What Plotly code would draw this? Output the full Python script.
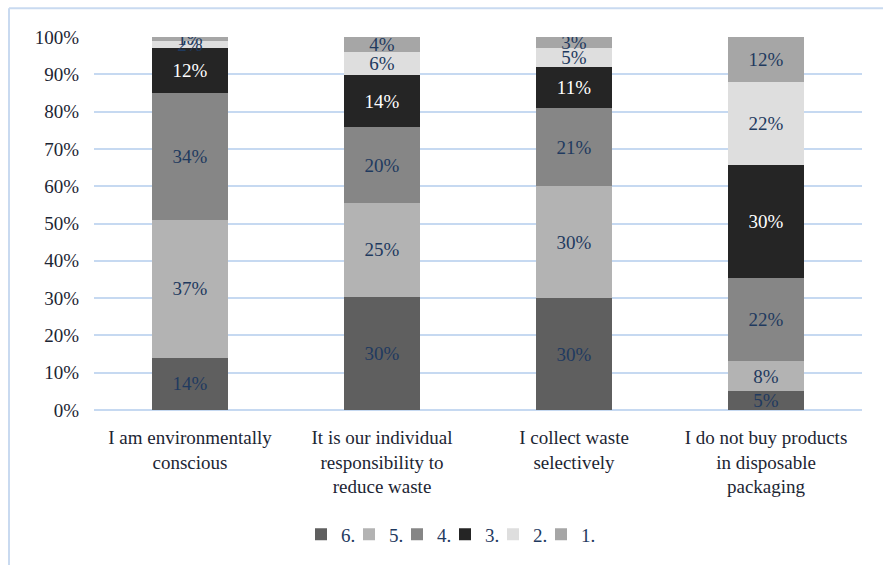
import plotly.graph_objects as go

# Survey statements (x categories)
categories = [
    "I am environmentally<br>conscious",
    "It is our individual<br>responsibility to<br>reduce waste",
    "I collect waste<br>selectively",
    "I do not buy products<br>in disposable<br>packaging",
]

# Share of answers per rating level (percent), stacked bottom to top
rating_6 = [14, 30, 30, 5]
rating_5 = [37, 25, 30, 8]
rating_4 = [34, 20, 21, 22]
rating_3 = [12, 14, 11, 30]
rating_2 = [2, 6, 5, 22]
rating_1 = [1, 4, 3, 12]

series_names = ["6.", "5.", "4.", "3.", "2.", "1."]
series_values = [rating_6, rating_5, rating_4, rating_3, rating_2, rating_1]
series_colors = ["#5f5f5f", "#b3b3b3", "#868686", "#252525", "#dedede", "#a6a6a6"]
label_colors = ["#1f3a5f", "#1f3a5f", "#1f3a5f", "#ffffff", "#1f3a5f", "#1f3a5f"]

y_ticks = [0, 10, 20, 30, 40, 50, 60, 70, 80, 90, 100]
y_tick_labels = [f"{t}%" for t in y_ticks]

FONT = "Liberation Serif"
TEXT = "#1c2533"
GRID = "#c6d9f1"

# plot area in pixels
PL, PR, PT, PB = 94, 862, 37, 412


def px_x(p):
    return (p - PL) / (PR - PL)


def px_y(p):
    return (PB - p) / (PB - PT)


# one small legend box per series, laid out in a tight row
LEG_LEFT = 301
LEG_STEP = 48
legend_ids = ["legend"] + [f"legend{i}" for i in range(2, len(series_names) + 1)]

fig = go.Figure()
for name, vals, color, lc, lg in zip(series_names, series_values, series_colors,
                                     label_colors, legend_ids):
    fig.add_trace(go.Bar(
        name=name,
        x=categories,
        y=vals,
        legend=lg,
        marker=dict(color=color, line=dict(width=0)),
        text=[f"{v}%" for v in vals],
        texttemplate="%{text}",
        textposition="inside",
        insidetextanchor="middle",
        constraintext="none",
        textangle=0,
        textfont=dict(family=FONT, size=19, color=lc),
        hoverinfo="skip",
    ))

# Outer frame lines (left and top edges of the chart box)
fig.add_shape(type="line", xref="paper", yref="paper",
              x0=px_x(9), x1=px_x(9), y0=px_y(8), y1=px_y(600),
              line=dict(color="#c9daf0", width=2))
fig.add_shape(type="line", xref="paper", yref="paper",
              x0=px_x(9), x1=px_x(900), y0=px_y(8), y1=px_y(8),
              line=dict(color="#c9daf0", width=2))

legends = {}
for i, lg in enumerate(legend_ids):
    legends[lg] = dict(
        orientation="h",
        x=px_x(LEG_LEFT + i * LEG_STEP), xanchor="left",
        y=px_y(537), yanchor="middle",
        font=dict(family=FONT, size=19, color="#1f3a5f"),
        itemwidth=30,
        bgcolor="rgba(0,0,0,0)",
    )

fig.update_layout(
    width=883, height=565,
    margin=dict(l=PL, r=883 - PR, t=PT, b=565 - PB),
    barmode="stack",
    barnorm="percent",
    bargap=0.6,
    plot_bgcolor="white",
    paper_bgcolor="white",
    font=dict(family=FONT, size=19, color=TEXT),
    showlegend=True,
    xaxis=dict(
        tickfont=dict(family=FONT, size=19, color=TEXT),
        showgrid=False,
        showline=False,
        ticks="",
        ticklabelstandoff=14,
    ),
    yaxis=dict(
        range=[0, 100],
        tickvals=y_ticks,
        ticktext=y_tick_labels,
        tickfont=dict(family=FONT, size=19, color=TEXT),
        showgrid=True,
        gridcolor=GRID,
        gridwidth=2,
        zeroline=True,
        zerolinecolor=GRID,
        zerolinewidth=2,
        ticks="",
        ticklabelstandoff=14,
    ),
    **legends,
)

fig.write_html("out.html")
